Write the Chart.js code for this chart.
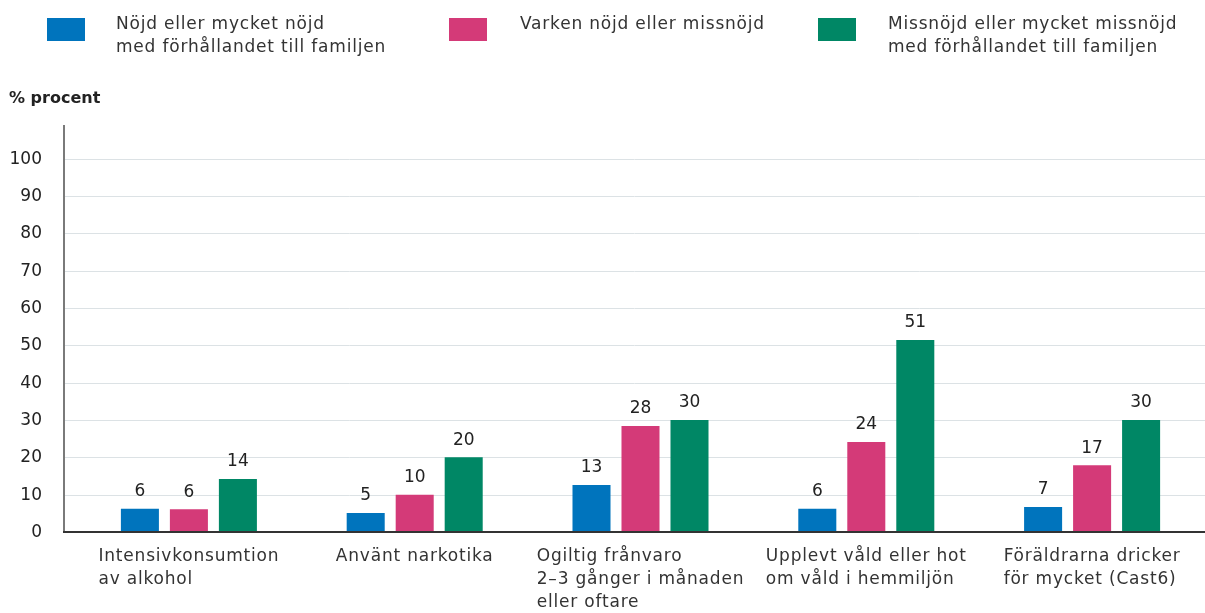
<!DOCTYPE html>
<html>
<head>
<meta charset="utf-8">
<script src="https://cdn.jsdelivr.net/npm/chart.js@4.4.1/dist/chart.umd.min.js"></script>
<style>
  html, body { margin: 0; padding: 0; background: #fff; }
  #wrap { position: relative; width: 1205px; height: 613px; overflow: hidden; font-family: "DejaVu Sans", sans-serif; }
  canvas { position: absolute; left: 0; top: 0; }
  .box { position: absolute; top: 18px; width: 38px; height: 23px; }
  .ltext { position: absolute; top: 12px; font-size: 17px; letter-spacing: 0.8px; line-height: 23px; color: #333; white-space: nowrap; }
  #ytitle { position: absolute; left: 9px; top: 87px; font-size: 16px; line-height: 22px; font-weight: bold; color: #222; }
</style>
</head>
<body>
<div id="wrap">
  <canvas id="c" width="1205" height="613"></canvas>
  <div id="legend"></div>
  <div id="ytitle">% procent</div>
</div>
<script>
const categories = [
  ["Intensivkonsumtion", "av alkohol"],
  ["Använt narkotika"],
  ["Ogiltig frånvaro", "2–3 gånger i månaden", "eller oftare"],
  ["Upplevt våld eller hot", "om våld i hemmiljön"],
  ["Föräldrarna dricker", "för mycket (Cast6)"]
];
const seriesNames = [
  ["Nöjd eller mycket nöjd", "med förhållandet till familjen"],
  ["Varken nöjd eller missnöjd"],
  ["Missnöjd eller mycket missnöjd", "med förhållandet till familjen"]
];
const nojd = [6.2, 5.1, 12.6, 6.2, 6.7];
const varken = [6.1, 10, 28.4, 24.1, 17.9];
const missnojd = [14.2, 20, 30, 51.4, 30];
const nojdLabels = ["6", "5", "13", "6", "7"];
const varkenLabels = ["6", "10", "28", "24", "17"];
const missnojdLabels = ["14", "20", "30", "51", "30"];
const yTicks = [0, 10, 20, 30, 40, 50, 60, 70, 80, 90, 100];

const colors = ["#0074bd", "#d43a78", "#008765"];
const valueLabels = [nojdLabels, varkenLabels, missnojdLabels];

// HTML legend
const legendPos = [{box: 47, text: 116}, {box: 449, text: 520}, {box: 818, text: 888}];
const legendEl = document.getElementById('legend');
seriesNames.forEach((name, i) => {
  const b = document.createElement('div');
  b.className = 'box';
  b.style.left = legendPos[i].box + 'px';
  b.style.background = colors[i];
  legendEl.appendChild(b);
  const t = document.createElement('div');
  t.className = 'ltext';
  t.style.left = legendPos[i].text + 'px';
  t.innerHTML = name.join('<br>');
  legendEl.appendChild(t);
});

const FONT = '"DejaVu Sans", sans-serif';
const AXIS_X = 64;

const decor = {
  id: 'decor',
  beforeDatasetsDraw(chart) {
    const ctx = chart.ctx, y = chart.scales.y, a = chart.chartArea;
    ctx.save();
    ctx.strokeStyle = '#dce2e5';
    ctx.lineWidth = 1;
    ctx.font = '17px ' + FONT;
    ctx.fillStyle = '#222';
    ctx.textAlign = 'right';
    ctx.textBaseline = 'middle';
    yTicks.forEach(v => {
      const py = Math.round(y.getPixelForValue(v)) + 0.5;
      if (v > 0) {
        ctx.beginPath();
        ctx.moveTo(AXIS_X, py);
        ctx.lineTo(a.right, py);
        ctx.stroke();
      }
      ctx.fillText(String(v), 42, py);
    });
    // y axis line
    ctx.strokeStyle = '#7a7a7a';
    ctx.lineWidth = 2;
    ctx.beginPath();
    ctx.moveTo(AXIS_X, a.top);
    ctx.lineTo(AXIS_X, y.getPixelForValue(0));
    ctx.stroke();
    ctx.restore();
  },
  afterDatasetsDraw(chart) {
    const ctx = chart.ctx, x = chart.scales.x, y = chart.scales.y, a = chart.chartArea;
    ctx.save();
    // x axis line
    const by = y.getPixelForValue(0);
    ctx.strokeStyle = '#333';
    ctx.lineWidth = 2;
    ctx.beginPath();
    ctx.moveTo(AXIS_X - 1, by);
    ctx.lineTo(a.right, by);
    ctx.stroke();
    // value labels
    ctx.font = '17px ' + FONT;
    ctx.fillStyle = '#222';
    ctx.textAlign = 'center';
    ctx.textBaseline = 'middle';
    chart.data.datasets.forEach((ds, di) => {
      chart.getDatasetMeta(di).data.forEach((bar, i) => {
        ctx.fillText(valueLabels[di][i], bar.x, bar.y - 17);
      });
    });
    // category labels: block centered, lines left-aligned
    ctx.textAlign = 'left';
    ctx.fillStyle = '#333';
    ctx.letterSpacing = '0.8px';
    categories.forEach((lines, i) => {
      const px = x.getPixelForValue(i);
      const w = Math.max(...lines.map(l => ctx.measureText(l).width));
      const sx = px - w / 2;
      lines.forEach((l, k) => ctx.fillText(l, sx, 557 + k * 23));
    });
    ctx.restore();
  }
};

new Chart(document.getElementById('c'), {
  type: 'bar',
  data: {
    labels: categories.map(c => c.join(' ')),
    datasets: [
      { label: seriesNames[0].join(' '), data: nojd, backgroundColor: colors[0] },
      { label: seriesNames[1].join(' '), data: varken, backgroundColor: colors[1] },
      { label: seriesNames[2].join(' '), data: missnojd, backgroundColor: colors[2] }
    ]
  },
  options: {
    responsive: false,
    animation: false,
    layout: { padding: { left: 76, right: 0, top: 125, bottom: 81 } },
    datasets: { bar: { barPercentage: 0.776, categoryPercentage: 0.651 } },
    plugins: { legend: { display: false }, tooltip: { enabled: false } },
    scales: {
      x: { display: false },
      y: { display: false, min: 0, max: 109 }
    }
  },
  plugins: [decor]
});
</script>
</body>
</html>
